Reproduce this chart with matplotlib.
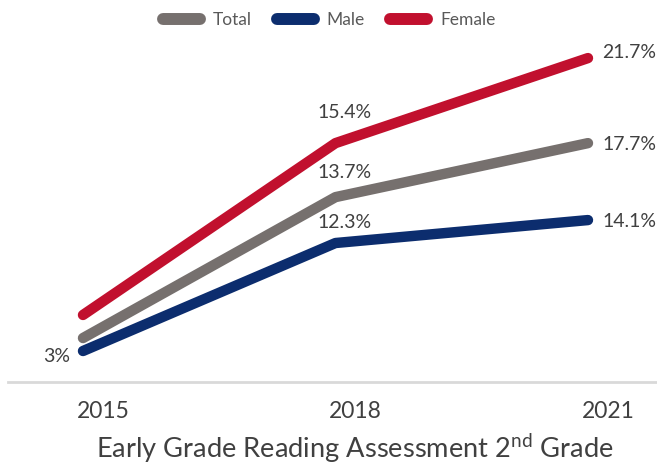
import matplotlib
matplotlib.use("Agg")
import matplotlib.pyplot as plt
from matplotlib.lines import Line2D

plt.rcParams['font.family'] = ['Lato', 'DejaVu Sans']
plt.rcParams['mathtext.fontset'] = 'custom'
plt.rcParams['mathtext.rm'] = 'Lato'

years = [2015, 2018, 2021]
year_labels = ['2015', '2018', '2021']

# heights as drawn in the picture (the drawing does not follow its own labels)
total = [0.96, 11.4, 15.4]
male = [0.0, 8.0, 9.7]
female = [2.67, 15.4, 21.7]

# printed labels
total_labels = ['', '13.7%', '17.7%']
male_labels = ['3%', '12.3%', '14.1%']
female_labels = ['', '15.4%', '21.7%']

c_total = '#76706e'
c_male = '#0c2d6e'
c_female = '#c1102e'
txt = '#404040'

fig = plt.figure(figsize=(6.57, 4.66), dpi=100)
ax = fig.add_axes([8/657, 84/466, 649/657, 342/466])
ax.set_xlim(2014.109, 2021.820)
ax.set_ylim(-2.296, 23.04)

lw = 7.5
ax.plot(years, female, color=c_female, lw=lw, solid_capstyle='round', solid_joinstyle='round')
ax.plot(years, total, color=c_total, lw=lw, solid_capstyle='round', solid_joinstyle='round')
ax.plot(years, male, color=c_male, lw=lw, solid_capstyle='round', solid_joinstyle='round')

# label offsets in pixels (dx, dy-down), converted to points
offs = {
    'female': [None, (9.5, -25, 'center'), (14, 0, 'left')],
    'total': [None, (9.5, -19, 'center'), (14, 7, 'left')],
    'male': [(-13, 11, 'right'), (9.5, -15, 'center'), (14, 7, 'left')],
}
for key, vals, labs in [('female', female, female_labels),
                        ('total', total, total_labels),
                        ('male', male, male_labels)]:
    for i, (x, v, s) in enumerate(zip(years, vals, labs)):
        if not s:
            continue
        dx, dy, ha = offs[key][i]
        ax.annotate(s, xy=(x, v), xytext=(dx*0.72, -dy*0.72), textcoords='offset points',
                    ha=ha, va='baseline', fontsize=14, color=txt)

for x, s in zip(years, year_labels):
    ax.annotate(s, xy=(x, 0), xycoords=('data', 'axes fraction'),
                xytext=(20*0.72, -36*0.72), textcoords='offset points',
                ha='center', va='baseline', fontsize=16.5, color=txt)

for sp in ['top', 'right', 'left']:
    ax.spines[sp].set_visible(False)
ax.spines['bottom'].set_color('#d9d9d9')
ax.spines['bottom'].set_linewidth(2)
ax.set_xticks([])
ax.set_yticks([])

fig.text(354.5/657, 1 - 458/466, r'Early Grade Reading Assessment 2$^{\mathrm{nd}}$ Grade',
         ha='center', va='baseline', fontsize=19.6, color=txt)

handles = [Line2D([], [], color=c, lw=8.6, solid_capstyle='round') for c in [c_total, c_male, c_female]]
fig.legend(handles, ['Total', 'Male', 'Female'], loc='center', bbox_to_anchor=(329/657, 1 - 20/466),
           ncol=3, frameon=False, fontsize=12.5, labelcolor='#595959',
           handlelength=2.13, handletextpad=0.75, columnspacing=1.44)

fig.savefig('out.png', dpi=100)
